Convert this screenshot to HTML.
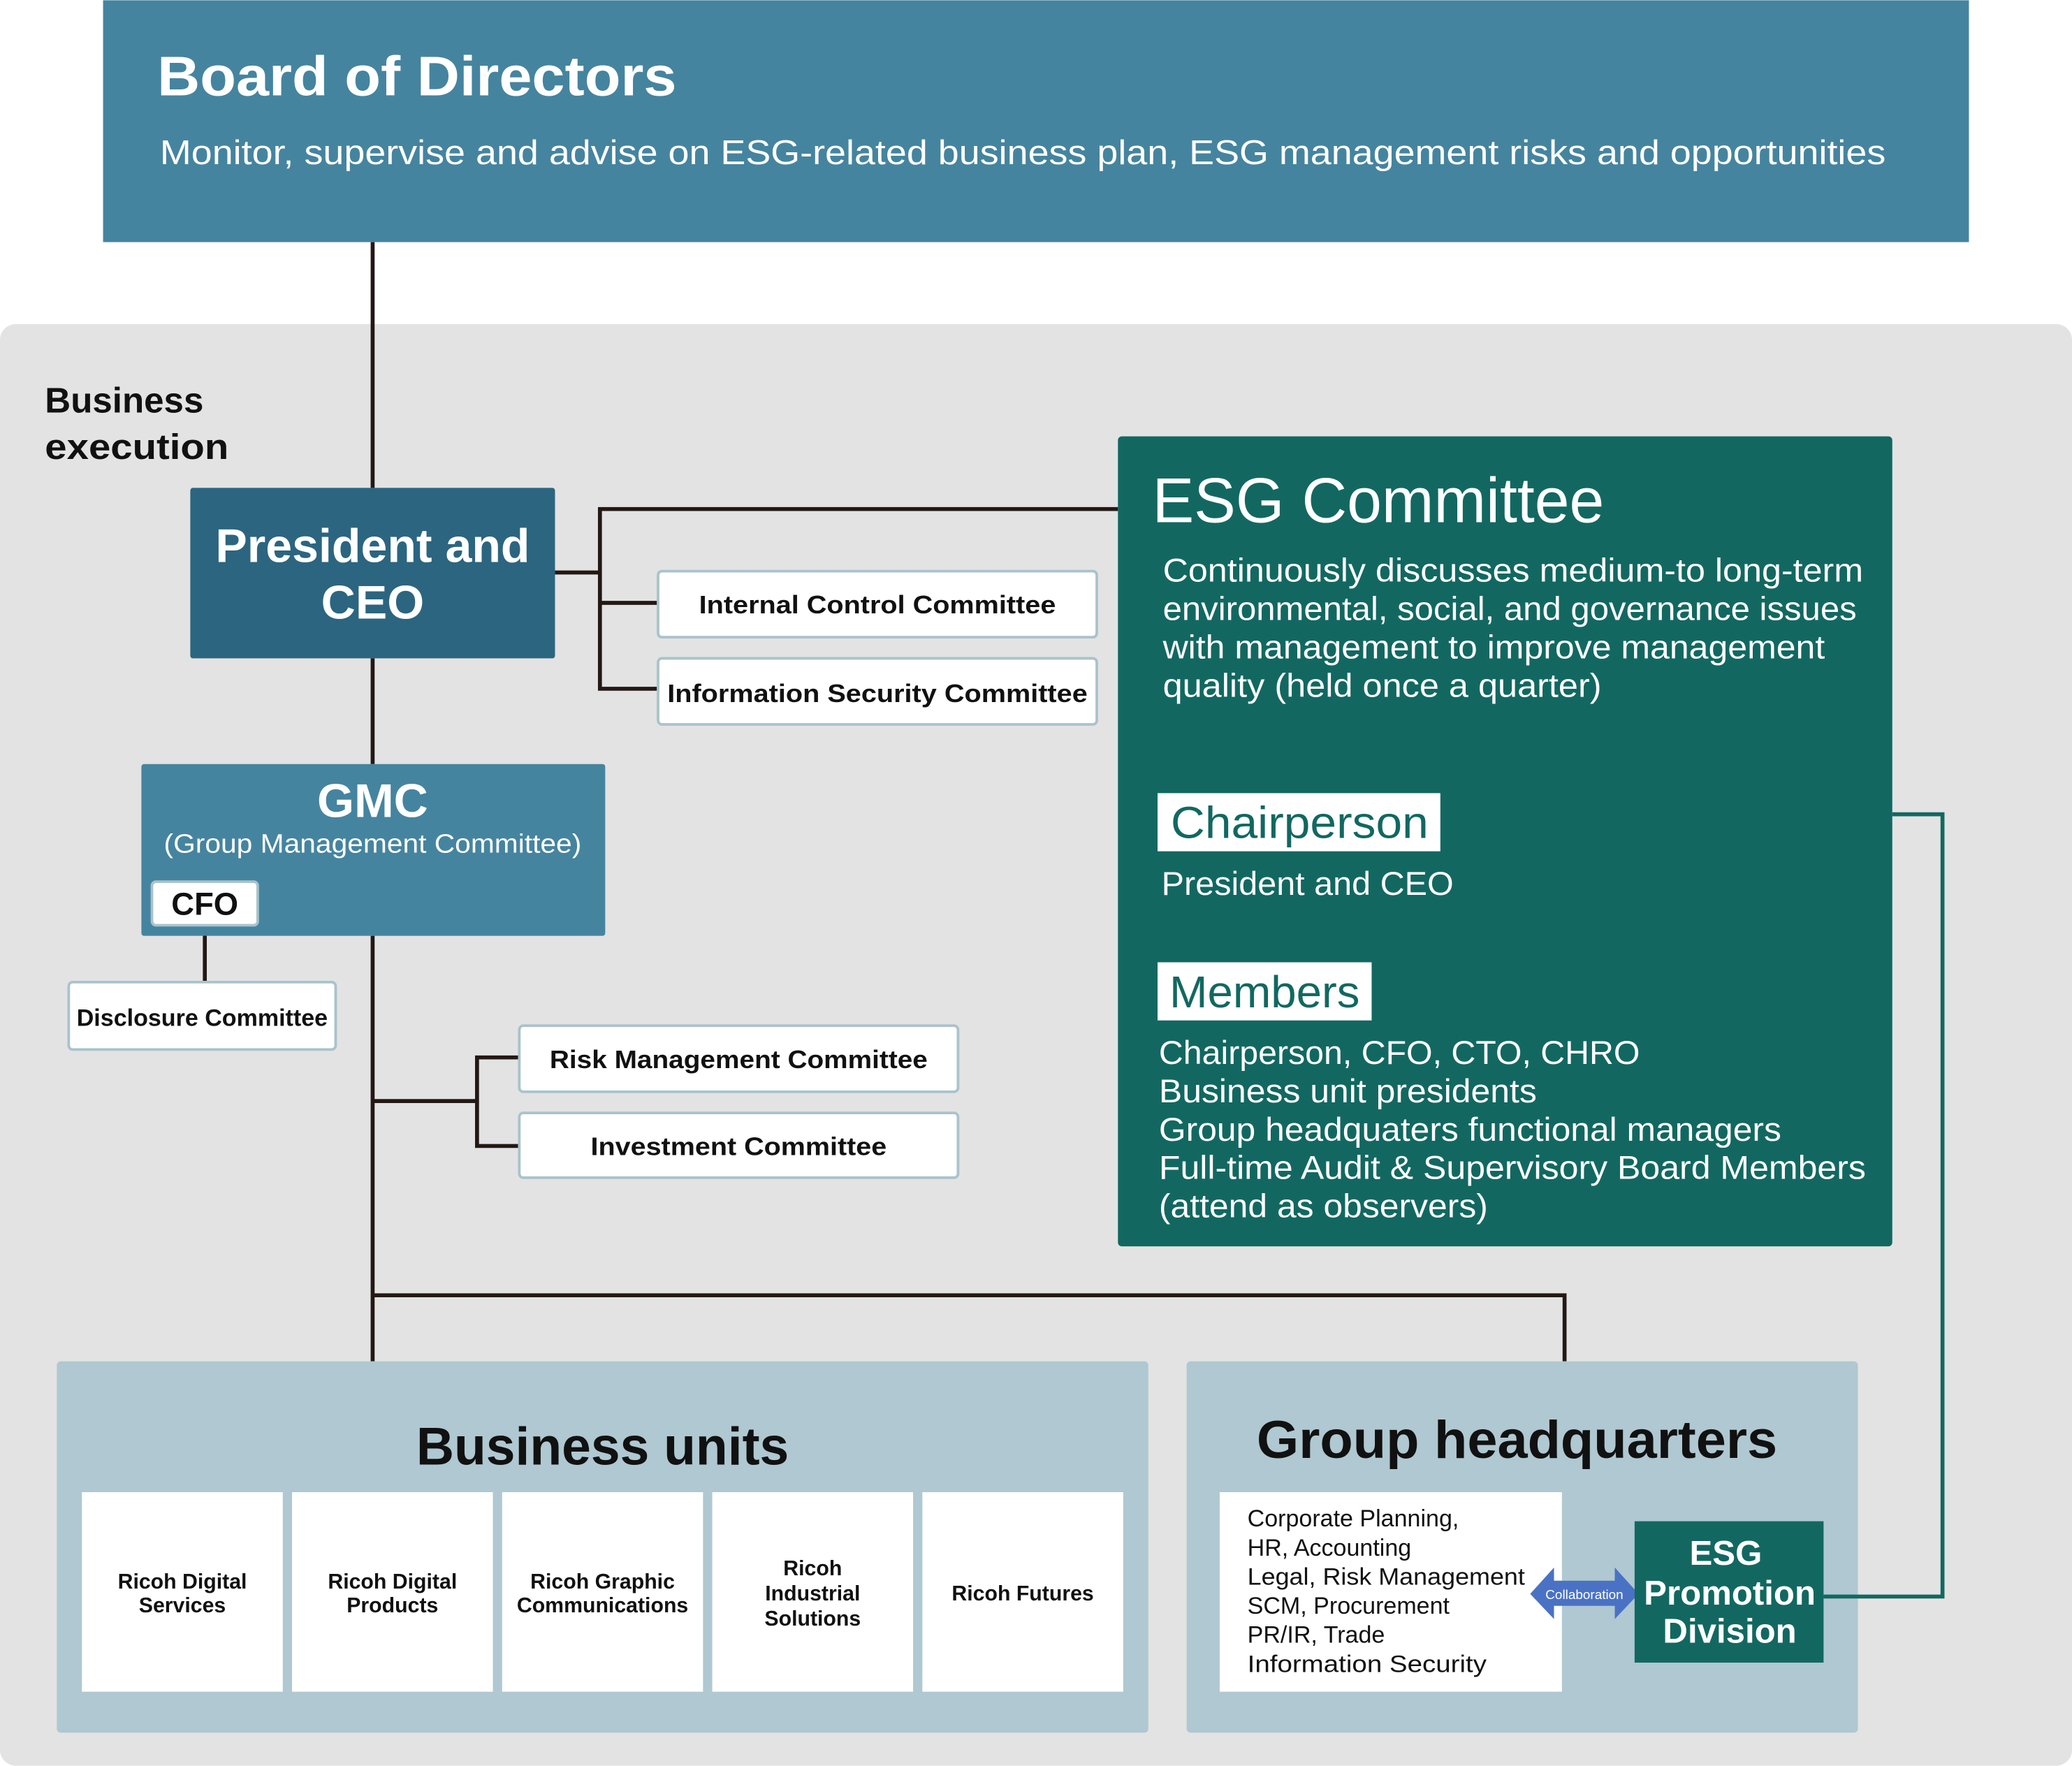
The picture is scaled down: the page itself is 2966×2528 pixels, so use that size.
<!DOCTYPE html>
<html><head><meta charset="utf-8"><style>html,body{margin:0;padding:0;background:#fff}svg{display:block}</style></head>
<body>
<svg xmlns="http://www.w3.org/2000/svg" width="2966" height="2528" viewBox="0 0 1568 1336" font-family="Liberation Sans, DejaVu Sans, sans-serif">
<rect x="0" y="0" width="1568" height="1336" fill="#fff"/>
<rect x="78" y="0" width="1412" height="183" fill="#45849f"/>
<text x="119" y="72" font-size="42" font-weight="bold" fill="#fff" textLength="393" lengthAdjust="spacingAndGlyphs">Board of Directors</text>
<text x="121" y="124" font-size="26" fill="#fff" textLength="1306" lengthAdjust="spacingAndGlyphs">Monitor, supervise and advise on ESG-related business plan, ESG management risks and opportunities</text>
<rect x="0" y="245" width="1568" height="1091" rx="12" fill="#e3e3e3"/>
<text x="34" y="312" font-size="27" font-weight="bold" fill="#111">Business</text>
<text x="34" y="347" font-size="27" font-weight="bold" fill="#111" textLength="139" lengthAdjust="spacingAndGlyphs">execution</text>
<g stroke="#231815" stroke-width="3" fill="none">
<line x1="282" y1="183" x2="282" y2="369"/>
<line x1="282" y1="498" x2="282" y2="578"/>
<line x1="155" y1="700" x2="155" y2="743"/>
<polyline points="420,433 454,433"/>
<polyline points="846,385 454,385 454,521 498,521"/>
<line x1="454" y1="456" x2="498" y2="456"/>
<line x1="282" y1="708" x2="282" y2="1030"/>
<line x1="282" y1="833" x2="361" y2="833"/>
<polyline points="393,800 361,800 361,867 393,867"/>
<polyline points="282,980 1184,980 1184,1030"/>
</g>
<rect x="144" y="369" width="276" height="129" rx="2" fill="#2c6580"/>
<text x="282" y="425" font-size="36" font-weight="bold" fill="#fff" text-anchor="middle">President and</text>
<text x="282" y="468" font-size="36" font-weight="bold" fill="#fff" text-anchor="middle">CEO</text>
<rect x="107" y="578" width="351" height="130" rx="2" fill="#45849f"/>
<text x="282" y="618" font-size="36" font-weight="bold" fill="#fff" text-anchor="middle">GMC</text>
<text x="282" y="645" font-size="20" fill="#fff" text-anchor="middle" textLength="316" lengthAdjust="spacingAndGlyphs">(Group Management Committee)</text>
<rect x="115" y="667" width="80" height="33" rx="3" fill="#fff" stroke="#a9c3cc" stroke-width="2"/>
<text x="155" y="692" font-size="24" font-weight="bold" fill="#111" text-anchor="middle">CFO</text>
<g fill="#fff" stroke="#a9c3cc" stroke-width="2">
<rect x="52" y="743" width="202" height="51" rx="3"/>
<rect x="498" y="432" width="332" height="50" rx="3"/>
<rect x="498" y="498" width="332" height="50" rx="3"/>
<rect x="393" y="776" width="332" height="50" rx="3"/>
<rect x="393" y="842" width="332" height="49" rx="3"/>
</g>
<g font-size="19" font-weight="bold" fill="#111" text-anchor="middle">
<text x="153" y="776" font-size="18">Disclosure Committee</text>
<text x="664" y="464" textLength="270" lengthAdjust="spacingAndGlyphs">Internal Control Committee</text>
<text x="664" y="531" textLength="318" lengthAdjust="spacingAndGlyphs">Information Security Committee</text>
<text x="559" y="808" textLength="286" lengthAdjust="spacingAndGlyphs">Risk Management Committee</text>
<text x="559" y="874" textLength="224" lengthAdjust="spacingAndGlyphs">Investment Committee</text>
</g>
<rect x="846" y="330" width="586" height="613" rx="3" fill="#126861"/>
<text x="872" y="395" font-size="48" fill="#fff" textLength="342" lengthAdjust="spacingAndGlyphs">ESG Committee</text>
<g font-size="25" fill="#fff" lengthAdjust="spacingAndGlyphs">
<text x="880" y="440" textLength="530" lengthAdjust="spacingAndGlyphs">Continuously discusses medium-to long-term</text>
<text x="880" y="469" textLength="525" lengthAdjust="spacingAndGlyphs">environmental, social, and governance issues</text>
<text x="880" y="498" textLength="501" lengthAdjust="spacingAndGlyphs">with management to improve management</text>
<text x="880" y="527" textLength="332" lengthAdjust="spacingAndGlyphs">quality (held once a quarter)</text>
<text x="879" y="677" textLength="221" lengthAdjust="spacingAndGlyphs">President and CEO</text>
<text x="877" y="805" textLength="364" lengthAdjust="spacingAndGlyphs">Chairperson, CFO, CTO, CHRO</text>
<text x="877" y="834" textLength="286" lengthAdjust="spacingAndGlyphs">Business unit presidents</text>
<text x="877" y="863" textLength="471" lengthAdjust="spacingAndGlyphs">Group headquaters functional managers</text>
<text x="877" y="892" textLength="535" lengthAdjust="spacingAndGlyphs">Full-time Audit &amp; Supervisory Board Members</text>
<text x="877" y="921" textLength="249" lengthAdjust="spacingAndGlyphs">(attend as observers)</text>
</g>
<rect x="876" y="600" width="214" height="44" fill="#fff"/>
<text x="886" y="634" font-size="34" fill="#126861" textLength="195" lengthAdjust="spacingAndGlyphs">Chairperson</text>
<rect x="876" y="728" width="162" height="44" fill="#fff"/>
<text x="885" y="762" font-size="34" fill="#126861" textLength="144" lengthAdjust="spacingAndGlyphs">Members</text>
<rect x="43" y="1030" width="826" height="281" rx="3" fill="#afc8d1"/>
<text x="456" y="1108" font-size="40" font-weight="bold" fill="#111" text-anchor="middle" textLength="282" lengthAdjust="spacingAndGlyphs">Business units</text>
<g fill="#fff">
<rect x="62" y="1129" width="152" height="151"/>
<rect x="221" y="1129" width="152" height="151"/>
<rect x="380" y="1129" width="152" height="151"/>
<rect x="539" y="1129" width="152" height="151"/>
<rect x="698" y="1129" width="152" height="151"/>
</g>
<g font-size="16" font-weight="bold" fill="#111" text-anchor="middle">
<text x="138" y="1202">Ricoh Digital</text><text x="138" y="1220">Services</text>
<text x="297" y="1202">Ricoh Digital</text><text x="297" y="1220">Products</text>
<text x="456" y="1202">Ricoh Graphic</text><text x="456" y="1220">Communications</text>
<text x="615" y="1192">Ricoh</text><text x="615" y="1211">Industrial</text><text x="615" y="1230">Solutions</text>
<text x="774" y="1211">Ricoh Futures</text>
</g>
<rect x="898" y="1030" width="508" height="281" rx="3" fill="#afc8d1"/>
<text x="1148" y="1103" font-size="40" font-weight="bold" fill="#111" text-anchor="middle" textLength="394" lengthAdjust="spacingAndGlyphs">Group headquarters</text>
<rect x="923" y="1129" width="259" height="151" fill="#fff"/>
<g font-size="18" fill="#111">
<text x="944" y="1155">Corporate Planning,</text>
<text x="944" y="1177">HR, Accounting</text>
<text x="944" y="1199" textLength="210" lengthAdjust="spacingAndGlyphs">Legal, Risk Management</text>
<text x="944" y="1221">SCM, Procurement</text>
<text x="944" y="1243">PR/IR, Trade</text>
<text x="944" y="1265" textLength="181" lengthAdjust="spacingAndGlyphs">Information Security</text>
</g>
<polyline points="1432,616 1470,616 1470,1208 1380,1208" stroke="#126861" stroke-width="3" fill="none"/>
<polygon points="1158,1206 1176,1186 1176,1196 1222,1196 1222,1186 1240,1206 1222,1225 1222,1215 1176,1215 1176,1225" fill="#4a72c4"/>
<text x="1199" y="1210" font-size="10" fill="#fff" text-anchor="middle">Collaboration</text>
<rect x="1237" y="1151" width="143" height="107" fill="#126861"/>
<g font-size="26" font-weight="bold" fill="#fff" text-anchor="middle">
<text x="1306" y="1184">ESG</text>
<text x="1309" y="1214">Promotion</text>
<text x="1309" y="1243">Division</text>
</g>
</svg>
</body></html>
